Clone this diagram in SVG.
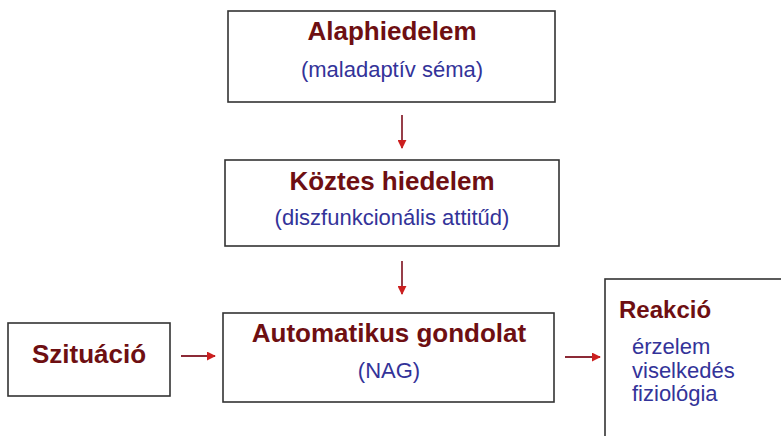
<svg xmlns="http://www.w3.org/2000/svg" width="781" height="436" viewBox="0 0 781 436">
<defs>
<style>
.box{fill:#fff;stroke:#333;stroke-width:1.6}
.t{font-family:"Liberation Sans",Arial,sans-serif;font-weight:bold;font-size:26px;fill:#6e0f12}
.s{font-family:"Liberation Sans",Arial,sans-serif;font-size:22px;fill:#333399}
.c{stroke:#8c2a36;stroke-width:1.8;fill:none}
</style>
<marker id="ah" viewBox="0 0 10 10" refX="9" refY="5" markerWidth="9" markerHeight="9" markerUnits="userSpaceOnUse" orient="auto">
<path d="M0,0 L10,5 L0,10 z" fill="#cc1f1f"/>
</marker>
</defs>
<rect width="781" height="436" fill="#fff"/>
<g id="alaphiedelem">
<rect class="box" x="228" y="11" width="327" height="91"/>
<text class="t" x="392" y="40" text-anchor="middle">Alaphiedelem</text>
<text class="s" x="392" y="77" text-anchor="middle">(maladaptív séma)</text>
</g>
<g id="koztes">
<rect class="box" x="225" y="160" width="334" height="86"/>
<text class="t" x="392" y="190" text-anchor="middle">Köztes hiedelem</text>
<text class="s" x="392" y="225" text-anchor="middle">(diszfunkcionális attitűd)</text>
</g>
<g id="automatikus">
<rect class="box" x="223" y="313" width="331" height="89"/>
<text class="t" x="389" y="342" text-anchor="middle">Automatikus gondolat</text>
<text class="s" x="389" y="378" text-anchor="middle">(NAG)</text>
</g>
<g id="szituacio">
<rect class="box" x="8" y="323" width="162" height="73"/>
<text class="t" x="89" y="363" text-anchor="middle">Szituáció</text>
</g>
<g id="reakcio">
<rect class="box" x="605" y="279" width="200" height="170"/>
<text class="t" x="619" y="318" style="font-size:24px">Reakció</text>
<text class="s" x="632" y="354">érzelem</text>
<text class="s" x="632" y="378">viselkedés</text>
<text class="s" x="632" y="401">fiziológia</text>
</g>
<g id="connectors">
<line class="c" x1="402" y1="115" x2="402" y2="148" marker-end="url(#ah)"/>
<line class="c" x1="402" y1="261" x2="402" y2="294" marker-end="url(#ah)"/>
<line class="c" x1="181" y1="356" x2="215" y2="356" marker-end="url(#ah)"/>
<line class="c" x1="565" y1="357" x2="600" y2="357" marker-end="url(#ah)"/>
</g>
</svg>
